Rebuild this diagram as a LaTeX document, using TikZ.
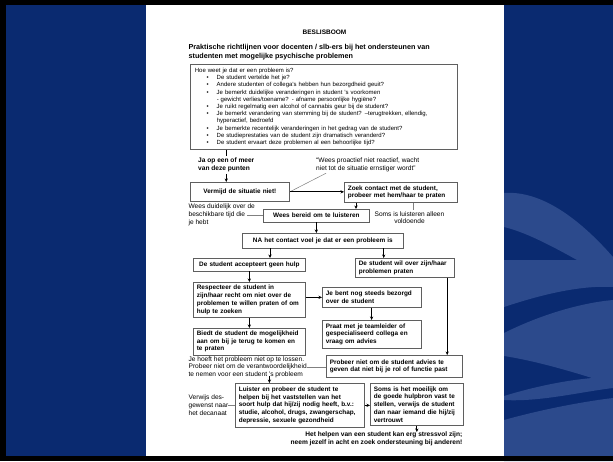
\documentclass[tikz,border=0pt]{standalone}
\usepackage{fontspec}
\setmainfont{Liberation Sans}
\usetikzlibrary{arrows.meta}

\definecolor{slideblue}{RGB}{10,42,112}
\definecolor{swoosh}{RGB}{44,74,140}
\definecolor{rim}{RGB}{95,95,95}

\newcommand{\boxfont}{\fontsize{6.4}{7.7}\selectfont\bfseries}
\newcommand{\notefont}{\fontsize{6.6}{7.7}\selectfont}
\newcommand{\bitem}{\hspace*{11.7pt}\makebox[10.2pt][l]{\textbullet}}
\newcommand{\bcont}{\hspace*{21.9pt}}

\begin{document}
\begin{tikzpicture}[x=1pt, y=-1pt, >={Stealth[length=3.5pt,width=3.2pt]},
  box/.style={draw=rim, line width=0.7pt, fill=white, anchor=north west,
    inner xsep=3.5pt, inner ysep=0pt, font=\boxfont, align=left},
  note/.style={anchor=north west, inner sep=0pt, font=\notefont, align=left},
  arr/.style={->, line width=1pt},
  tie/.style={draw=black!50, line width=0.5pt}]
\useasboundingbox (0,0) rectangle (613,461);
\fill[slideblue] (0,0) rectangle (613,461);
\begin{scope}[fill=swoosh]
    \fill (504,193) .. controls (545,190) and (585,225) .. (613,257) -- (613,287)
        .. controls (580,285) and (540,295) .. (504,307) -- (504,260) -- (577,260)
        .. controls (550,245) and (525,232) .. (504,227) -- cycle;
    \fill (504,333) .. controls (540,315) and (580,303) .. (613,300) -- (613,388)
        .. controls (580,392) and (540,402) .. (504,400) -- (504,396)
        .. controls (540,385) and (570,380) .. (592,378)
        .. controls (560,368) and (530,360) .. (504,356) -- cycle;
    \fill (504,420) .. controls (540,410) and (580,402) .. (613,398) -- (613,461) -- (504,461) -- cycle;
\end{scope}
\fill[white] (146,5) rectangle (504,456);
\fill[black] (0,0) rectangle (613,5);
\fill[black] (0,0) rectangle (6,461);
\fill[black] (0,456) rectangle (613,461);

\node[font=\fontsize{6.5}{8}\selectfont\bfseries] (titel) at (324.5,32.3) {BESLISBOOM};
\node[note, font=\fontsize{7.2}{9}\selectfont\bfseries] (kop) at (188.4,44.4)
    {Praktische richtlijnen voor docenten / slb-ers bij het ondersteunen van\\
     studenten met mogelijke psychische problemen};

\node[box, inner xsep=4.5pt, font=\fontsize{6}{7.2}\selectfont, text width=258pt, minimum height=85pt] (signalen) at (190,64)
    {Hoe weet je dat er een probleem is?\\
     \bitem De student vertelde het je?\\
     \bitem Andere studenten of collega's hebben hun bezorgdheid geuit?\\
     \bitem Je bemerkt duidelijke veranderingen in student 's voorkomen\\
     \bcont - gewicht verlies/toename? - afname persoonlijke hygiëne?\\
     \bitem Je ruikt regelmatig een alcohol of cannabis geur bij de student?\\
     \bitem Je bemerkt verandering van stemming bij de student? --terugtrekken, ellendig,\\
     \bcont hyperactief, bedroefd\\
     \bitem Je bemerkte recentelijk veranderingen in het gedrag van de student?\\
     \bitem De studieprestaties van de student zijn dramatisch veranderd?\\
     \bitem De student ervaart deze problemen al een behoorlijke tijd?};

\node[note, font=\notefont\bfseries] (ja) at (198,158) {Ja op een of meer\\ van deze punten};
\node[note] (proactief) at (316,158) {“Wees proactief niet reactief, wacht\\ niet tot de situatie ernstiger wordt”};
\node[box, align=center, text width=92pt, minimum height=19pt] (vermijd) at (190,182) {Vermijd de situatie niet!};
\node[box, text width=106pt, minimum height=20pt] (zoek) at (344,182) {Zoek contact met de student,\\ probeer met hem/haar te praten};
\node[note] (duidelijk) at (188.4,203.7) {Wees duidelijk over de\\ beschikbare tijd die\\ je hebt};
\node[box, align=center, text width=99pt, minimum height=12.5pt] (bereid) at (263,209) {Wees bereid om te luisteren};
\node[note, anchor=north, align=center] (alleen) at (409.5,211.3) {Soms is luisteren alleen\\ voldoende};
\node[box, align=center, text width=154pt, minimum height=14.5pt] (na) at (242,233) {NA het contact voel je dat er een probleem is};
\node[box, align=center, text width=105pt, minimum height=12.5pt] (geenhulp) at (193,258) {De student accepteert geen hulp};
\node[box, text width=92pt, minimum height=19pt] (wilpraten) at (355,258) {De student wil over zijn/haar\\ problemen praten};
\node[box, text width=105pt, minimum height=35pt] (respect) at (193,282)
    {Respecteer de student in\\ zijn/haar recht om niet over de\\ problemen te willen praten of om\\ hulp te zoeken};
\node[box, text width=91.5pt, minimum height=20pt] (bezorgd) at (322,287) {Je bent nog steeds bezorgd\\ over de student};
\node[box, text width=91.5pt, minimum height=28pt] (teamleider) at (322,320)
    {Praat met je teamleider of\\ gespecialiseerd collega en\\ vraag om advies};
\node[box, text width=105pt, minimum height=26.5pt] (biedt) at (193,328)
    {Biedt de student de mogelijkheid\\ aan om bij je terug te komen en\\ te praten};
\node[box, text width=129pt, minimum height=22pt] (advies) at (326,355)
    {Probeer niet om de student advies te\\ geven dat niet bij je rol of functie past};
\node[note] (hoeft) at (188.4,356.3)
    {Je hoeft het probleem niet op te lossen.\\ Probeer niet om de verantwoordelijkheid\\ te nemen voor een student 's probleem};
\node[box, text width=122pt, minimum height=44pt] (hulpsoort) at (235,383)
    {Luister en probeer de student te\\ helpen bij het vaststellen van het\\ soort hulp dat hij/zij nodig heeft, b.v.:\\
     studie, alcohol, drugs, zwangerschap,\\ depressie, sexuele gezondheid};
\node[note] (verwijs) at (188.4,394.7) {Verwijs des-\\ gewenst naar\\ het decanaat};
\node[box, text width=86pt, minimum height=42pt] (hulpbron) at (370,383)
    {Soms is het moeilijk om\\ de goede hulpbron vast te\\ stellen, verwijs de student\\ dan naar iemand die hij/zij\\ vertrouwt};
\node[note, anchor=north east, align=right, font=\notefont\bfseries] (slot) at (462.5,432)
    {Het helpen van een student kan erg stressvol zijn;\\ neem jezelf in acht en zoek ondersteuning bij anderen!};

\coordinate (z1) at ([xshift=12pt]zoek.south west);
\coordinate (d1) at (247.3,215);
\coordinate (a1) at ([xshift=3.5pt,yshift=1.5pt]alleen.north);
\coordinate (n1) at ([xshift=28pt]na.south west);
\coordinate (n2) at ([xshift=-20pt]na.south east);
\coordinate (w1) at ([xshift=-7.5pt]wilpraten.south east);
\coordinate (h1) at ([xshift=81pt,yshift=2pt]hoeft.south west);

\draw[line width=0.7pt] (signalen.south -| ja.north) -- ([yshift=2pt]ja.north);
\draw[arr] ([yshift=-1.5pt]ja.south) -- (ja.south |- vermijd.north);
\draw[tie] ([xshift=10pt,yshift=-1pt]proactief.south west) -- (vermijd.east);
\draw[arr] (vermijd.east) -- (vermijd.east -| zoek.west);
\draw[arr] (z1) -- (z1 |- bereid.north);
\draw[tie] (bereid.west -| d1) -- (bereid.west);
\draw[tie] (a1) -- (a1 |- zoek.south);
\draw[arr] (bereid.south) -- (bereid.south |- na.north);
\draw[arr] (n1) -- (n1 |- geenhulp.north);
\draw[arr] (n2) -- (n2 |- wilpraten.north);
\draw[arr] (geenhulp.south) -- (respect.north);
\draw[arr] (respect.east |- bezorgd.west) -- (bezorgd.west);
\draw[arr] (bezorgd.south) -- (teamleider.north);
\draw[arr, line width=0.6pt] (respect.south) -- (biedt.north);
\draw[arr] (w1) -- (w1 |- advies.north);
\draw[tie] (hoeft.east) -- (hoeft.east -| advies.west);
\draw[arr] (h1) -- (h1 |- hulpsoort.north);
\draw[tie] (verwijs.east) -- (verwijs.east -| hulpsoort.west);
\draw[arr] (hulpsoort.east) -- (hulpsoort.east -| hulpbron.west);
\draw[arr] (hulpbron.south) -- (hulpbron.south |- slot.north);
\end{tikzpicture}
\end{document}
